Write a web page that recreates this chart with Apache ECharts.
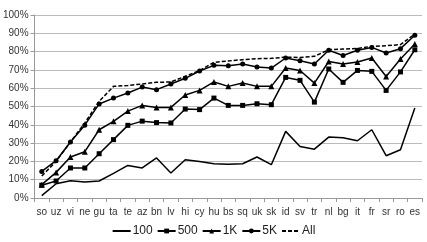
<!DOCTYPE html>
<html><head><meta charset="utf-8">
<script src="https://cdn.jsdelivr.net/npm/echarts@6/dist/echarts.min.js"></script>
<style>html,body{margin:0;padding:0;background:#fff}#c{width:427px;height:242px}</style>
</head><body><div id="c"></div>
<script>
var categories = ['so','uz','vi','ne','gu','ta','te','az','bn','lv','hi','cy','hu','bs','sq','uk','sk','id','sv','tr','nl','bg','it','fr','sr','ro','es'];
var s100 = [1.3,7.8,9.4,8.8,9.3,13.5,17.8,16.4,21.9,13.7,20.9,20.0,18.7,18.4,18.7,22.4,18.2,36.4,28.2,26.7,33.3,32.9,31.3,37.3,23.1,26.4,49.2];
var s500 = [7.0,9.3,16.4,16.4,24.2,31.9,39.7,42.0,41.2,41.0,48.6,48.3,54.6,50.6,50.6,51.5,51.0,65.9,64.3,52.4,70.5,63.2,69.7,69.2,58.8,68.9,81.0];
var s1K  = [7.3,14.0,22.4,25.3,37.3,41.9,47.5,50.6,49.5,49.5,56.3,58.8,63.4,61.0,62.8,61.0,61.0,71.0,69.7,62.8,74.6,73.2,74.3,76.5,66.4,76.0,84.1];
var s5K  = [14.5,20.4,30.6,39.8,51.4,54.6,57.4,60.6,59.2,62.3,65.4,69.4,72.5,72.3,73.2,71.6,71.0,76.5,75.0,73.2,80.7,77.9,80.7,82.3,79.2,81.6,88.9];
var sAll = [12.0,20.0,30.6,41.0,52.8,61.0,61.5,62.3,63.2,63.4,66.5,69.7,74.1,74.9,75.6,76.1,76.3,77.0,76.8,77.4,81.0,81.4,81.7,82.9,83.2,83.8,89.6];
var names = ['100','500','1K','5K','All'];

var chart = echarts.init(document.getElementById('c'), null, {renderer:'canvas'});
var font = 'Liberation Sans';
function ser(name, data, symbol, dashed){
  return {name:name, type:'line', data:data, symbol:symbol, symbolSize: symbol==='triangle'?6:5,
    showSymbol: symbol!=='none', animation:false,
    lineStyle:{color:'#000', width:1.5, type: dashed?[4,2]:'solid'},
    itemStyle:{color:'#000'}};
}
chart.setOption({
  animation:false,
  grid:{left:32, right:5, top:15, bottom:44},
  legend:{bottom:0, left:'center', itemWidth:18, itemHeight:6, itemGap:4,
    textStyle:{fontFamily:font, fontSize:12, color:'#222', padding:[0,0,0,-3]},
    data:names.map(function(n){
      return (n==='100'||n==='All') ? {name:n, itemStyle:{opacity:0}} : {name:n};
    })},
  xAxis:{type:'category', data:categories, boundaryGap:true,
    axisLine:{lineStyle:{color:'#999', width:1}},
    axisTick:{show:true, length:4, lineStyle:{color:'#999'}},
    axisLabel:{fontFamily:font, fontSize:10, color:'#333', margin:9, interval:0}},
  yAxis:{type:'value', min:0, max:100, interval:10,
    axisLine:{show:true, lineStyle:{color:'#999'}},
    axisTick:{show:true, length:4, lineStyle:{color:'#999'}},
    splitLine:{lineStyle:{color:'#bbb', width:1}},
    axisLabel:{fontFamily:font, fontSize:10, color:'#333', margin:6, formatter:'{value}%'}},
  series:[
    ser('100', s100, 'none', false),
    ser('500', s500, 'rect', false),
    ser('1K', s1K, 'triangle', false),
    ser('5K', s5K, 'circle', false),
    ser('All', sAll, 'none', true)
  ]
});
</script></body></html>
